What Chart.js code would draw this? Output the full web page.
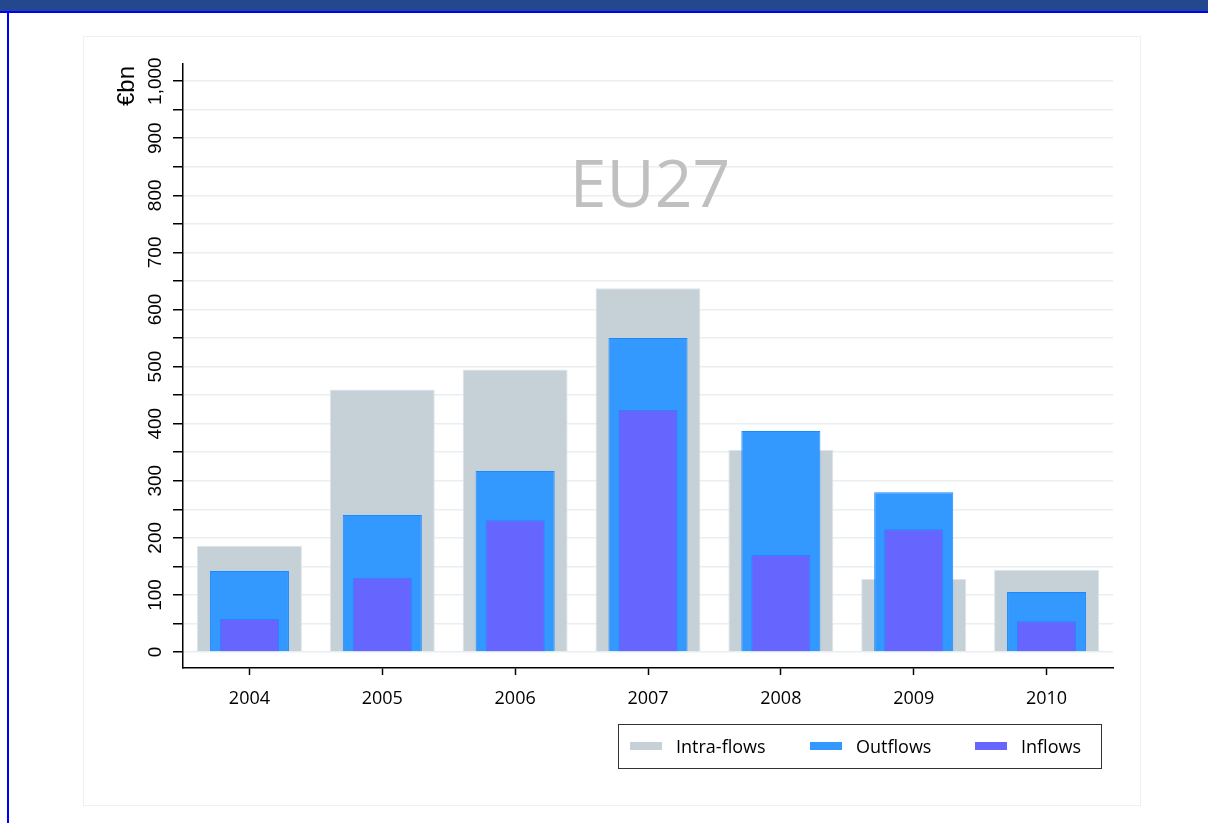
<!DOCTYPE html>
<html>
<head>
<meta charset="utf-8">
<script src="https://cdn.jsdelivr.net/npm/chart.js@4"></script>
<style>
  html,body{margin:0;padding:0;background:#fff;}
  body{width:1208px;height:823px;position:relative;overflow:hidden;font-family:"Open Sans",sans-serif;}
  .topbar{position:absolute;left:0;top:0;width:1208px;height:11px;background:#24488e;border-bottom:2px solid #0000ff;}
  .leftbar{position:absolute;left:7px;top:11px;width:2px;height:812px;background:#0000ff;}
  .panel{position:absolute;left:83px;top:36px;width:1056px;height:768px;border:1px solid #eef1f1;}
  #wrap{position:absolute;left:0;top:0;width:1208px;height:823px;}
  .legend{position:absolute;left:618px;top:724px;width:484px;height:45px;border:1.5px solid #333;box-sizing:border-box;font-size:18px;color:#000;}
  .legend .it{position:absolute;top:10px;line-height:22px;}
  .legend .sw{position:absolute;top:17px;width:32px;height:8px;}
</style>
</head>
<body>
<div class="topbar"></div>
<div class="leftbar"></div>
<div class="panel"></div>
<div id="wrap"><canvas id="c" width="1208" height="823"></canvas></div>
<div class="legend" id="legend"></div>
<script>
// EU27 flows, €bn
const years = ["2004","2005","2006","2007","2008","2009","2010"];
const intraFlows = [186, 460, 495, 637, 354, 128, 144];
const outflows   = [142, 240, 317, 550, 387, 280, 105];
const inflows    = [58, 130, 231, 424, 170, 215, 54];
const yTicks = [0,50,100,150,200,250,300,350,400,450,500,550,600,650,700,750,800,850,900,950,1000];

const colors = { intra:"#c6d0d7", out:"#3399ff", inn:"#6666ff" };
const yFont = { family:"'Liberation Sans', Arial, sans-serif", size:19, style:"normal", weight:"normal", lineHeight:1.2 };

// EU27 watermark + axis unit
const decor = {
  id:"decor",
  afterDraw(chart){
    const {ctx, chartArea} = chart;
    ctx.save();
    ctx.fillStyle = "#c0c0c0";
    ctx.font = "66px 'Open Sans'";
    ctx.textAlign = "center"; ctx.textBaseline = "middle";
    ctx.fillText("EU27", (chartArea.left+chartArea.right)/2 + 2, 188);
    ctx.fillStyle = "#000";
    ctx.font = "24px 'Liberation Sans'";
    ctx.translate(127, 86);
    ctx.rotate(-Math.PI/2);
    ctx.fillText("€bn", 0, 0);
    ctx.restore();
  }
};

new Chart(document.getElementById("c"), {
  type:"bar",
  data:{
    labels: years,
    datasets:[
      { label:"Intra-flows", data:intraFlows, backgroundColor:colors.intra, borderColor:"#dde5ea", borderWidth:1, barPercentage:0.79, categoryPercentage:1, order:3 },
      { label:"Outflows", data:outflows, backgroundColor:colors.out, borderColor:"#1a88ff", borderWidth:1, barPercentage:0.595, categoryPercentage:1, order:2 },
      { label:"Inflows", data:inflows, backgroundColor:colors.inn, borderColor:"#2f80ff", borderWidth:1, barPercentage:0.445, categoryPercentage:1, order:1 }
    ]
  },
  options:{
    responsive:false, animation:false,
    layout:{ padding:{ left:100, top:64, right:95, bottom:105 } },
    plugins:{ legend:{display:false}, tooltip:{enabled:false} },
    datasets:{ bar:{ grouped:false } },
    scales:{
      x:{
        grid:{ display:true, drawOnChartArea:false, offset:false, tickLength:7, tickColor:"#000", tickWidth:1.5 },
        border:{ display:true, color:"#000", width:1.5 },
        ticks:{ color:"#000", font:{ family:"Open Sans", size:18 }, padding:13 },
        afterFit(s){ s.width = s.width; s.height = 50; }
      },
      y:{
        min:-28, max:1030,
        afterBuildTicks(s){ s.ticks = yTicks.map(v=>({value:v})); },
        grid:{ color:"#e9eff1", lineWidth:1.5, tickColor:"#000", tickLength:10, tickWidth:1.5 },
        border:{ display:true, color:"#000", width:1.5 },
        ticks:{
          minRotation:90, maxRotation:90, crossAlign:"center", padding:-7,
          color:"#000", font:()=>yFont, autoSkip:false,
          callback:v=> v % 100 === 0 ? v.toLocaleString("en-US") : ""
        },
        afterFit(s){ s.width = 83; }
      }
    }
  },
  plugins:[decor]
});

// legend
const legendItems = [
  { label:"Intra-flows", color:colors.intra, sw:11, tx:57 },
  { label:"Outflows", color:colors.out, sw:191, tx:237 },
  { label:"Inflows", color:colors.inn, sw:356, tx:402 }
];
document.getElementById("legend").innerHTML = legendItems.map(it=>
  `<div class="sw" style="left:${it.sw}px;background:${it.color}"></div><div class="it" style="left:${it.tx}px">${it.label}</div>`
).join("");
</script>
</body>
</html>
